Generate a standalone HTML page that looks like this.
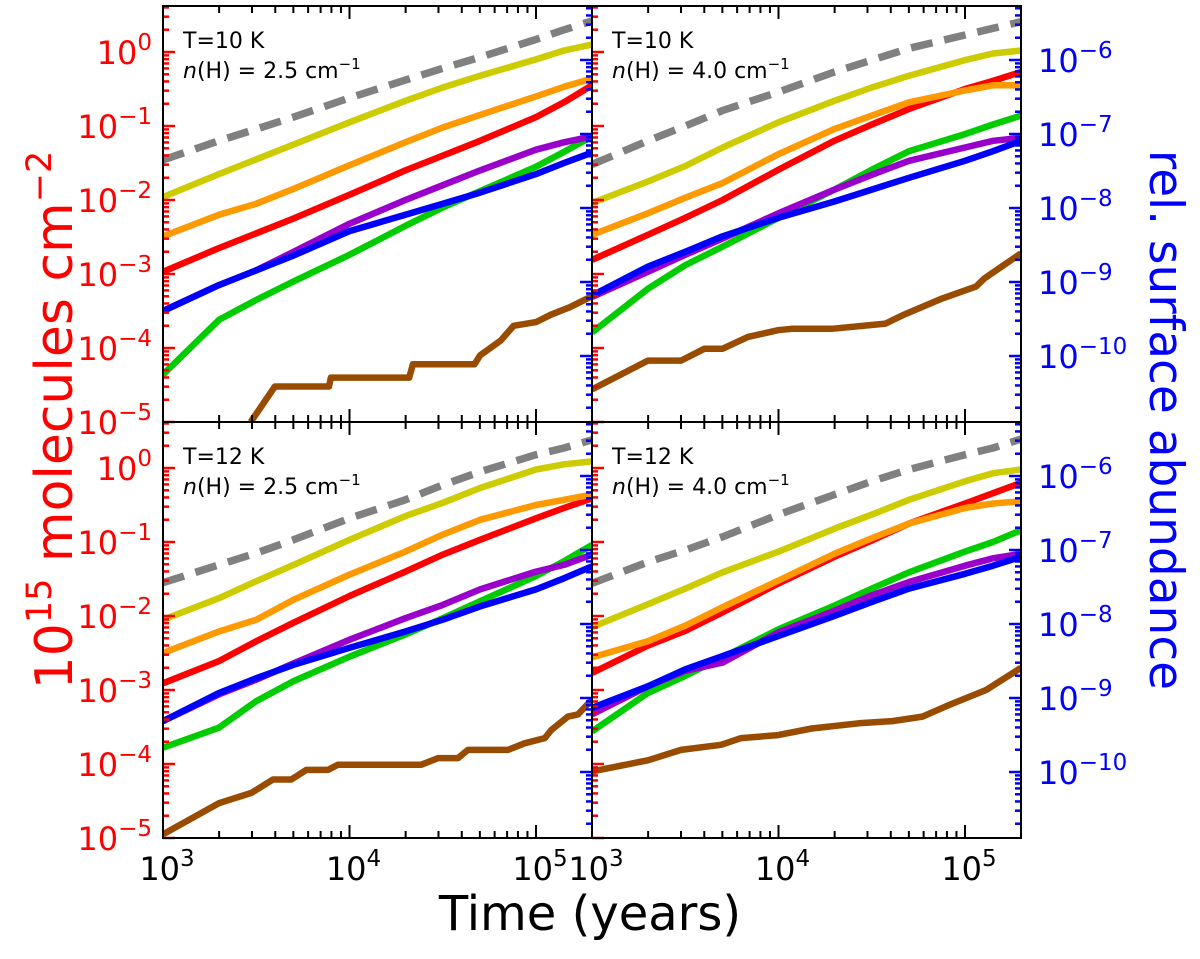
<!DOCTYPE html>
<html><head><meta charset="utf-8"><style>
html,body{margin:0;padding:0;background:#fff;}
svg{display:block;font-family:"DejaVu Sans","Liberation Sans",sans-serif;}
</style></head><body>
<svg id="chart" width="1200" height="959" viewBox="0 0 1200 959" xmlns="http://www.w3.org/2000/svg">
<defs>
<clipPath id="c0"><rect x="163" y="6" width="429" height="416"/></clipPath>
<clipPath id="c1"><rect x="592" y="6" width="429" height="416"/></clipPath>
<clipPath id="c2"><rect x="163" y="422" width="429" height="416"/></clipPath>
<clipPath id="c3"><rect x="592" y="422" width="429" height="416"/></clipPath>
</defs>
<g id="marks"></g>
<g id="axes"></g>
<text x="590" y="930" text-anchor="middle" font-size="48" fill="#000">Time (years)</text>
<text transform="translate(72,420) rotate(-90)" text-anchor="middle" font-size="52" fill="#ff0000">10<tspan dy="-21" font-size="35">15</tspan><tspan dy="21"> molecules cm</tspan><tspan dy="-21" font-size="35">−2</tspan></text>
<text transform="translate(1150,420) rotate(90)" text-anchor="middle" font-size="47" fill="#0000ff">rel. surface abundance</text>
</svg>
<script>
// shared sampled times (log10 years)
const logTimes = [3, 3.3, 3.5, 3.7, 4, 4.3, 4.5, 4.7, 5, 5.15, 5.3];
const seriesNames = ["gray","yellow","orange","red","purple","blue","green"];
const seriesColors = ["#808080","#cccc00","#ff9900","#ff0000","#9900cc","#0000ff","#00cc00"];
const panelLabels = [["T=10 K","2.5"],["T=10 K","4.0"],["T=12 K","2.5"],["T=12 K","4.0"]];
// panel 0: T=10 K, n=2.5 (log10 of values)
const p0Gray   = [-1.46,-1.2,-1.04,-0.88,-0.62,-0.38,-0.22,-0.07,0.17,0.3,0.42];
const p0Yellow = [-1.96,-1.65,-1.45,-1.25,-0.95,-0.66,-0.48,-0.32,-0.1,0.02,0.1];
const p0Orange = [-2.49,-2.2,-2.05,-1.85,-1.53,-1.22,-1.02,-0.85,-0.6,-0.47,-0.36];
const p0Red    = [-2.97,-2.65,-2.45,-2.25,-1.93,-1.6,-1.4,-1.2,-0.88,-0.68,-0.45];
const p0Purple = [-3.5,-3.15,-2.95,-2.7,-2.32,-2.0,-1.8,-1.6,-1.32,-1.22,-1.14];
const p0Blue   = [-3.5,-3.15,-2.95,-2.75,-2.42,-2.2,-2.05,-1.9,-1.65,-1.5,-1.36];
const p0Green  = [-4.36,-3.62,-3.35,-3.1,-2.74,-2.35,-2.1,-1.88,-1.55,-1.35,-1.14];
const p0BrownT = [3.47,3.6,3.89,3.9,4.32,4.34,4.67,4.7,4.81,4.88,5.0,5.08,5.18,5.3];
const p0BrownV = [-5,-4.52,-4.52,-4.4,-4.4,-4.22,-4.22,-4.1,-3.9,-3.7,-3.65,-3.55,-3.45,-3.3];
// panel 1: T=10 K, n=4.0
const p1Gray   = [-1.52,-1.2,-1.0,-0.79,-0.54,-0.27,-0.11,0.05,0.23,0.32,0.41];
const p1Yellow = [-2.04,-1.75,-1.54,-1.29,-0.95,-0.66,-0.48,-0.32,-0.11,-0.02,0.02];
const p1Orange = [-2.47,-2.18,-1.97,-1.77,-1.38,-1.04,-0.86,-0.68,-0.52,-0.45,-0.45];
const p1Red    = [-2.81,-2.47,-2.24,-2.0,-1.59,-1.2,-0.98,-0.77,-0.5,-0.39,-0.27];
const p1Purple = [-3.31,-2.97,-2.74,-2.52,-2.18,-1.86,-1.66,-1.47,-1.29,-1.2,-1.16];
const p1Blue   = [-3.29,-2.9,-2.7,-2.49,-2.24,-2.02,-1.86,-1.7,-1.47,-1.34,-1.2];
const p1Green  = [-3.79,-3.2,-2.88,-2.63,-2.24,-1.86,-1.59,-1.34,-1.11,-0.98,-0.86];
const p1BrownT = [3,3.3,3.477,3.603,3.701,3.836,3.998,4.07,4.286,4.574,4.664,4.879,5.059,5.104,5.3];
const p1BrownV = [-4.56,-4.17,-4.17,-4.01,-4.01,-3.85,-3.76,-3.74,-3.74,-3.67,-3.56,-3.33,-3.17,-3.06,-2.72];
// panel 2: T=12 K, n=2.5
const p2Gray   = [-1.55,-1.31,-1.15,-0.97,-0.68,-0.43,-0.23,-0.05,0.18,0.27,0.38];
const p2Yellow = [-2.05,-1.76,-1.53,-1.31,-0.97,-0.65,-0.47,-0.27,-0.02,0.05,0.09];
const p2Orange = [-2.5,-2.21,-2.05,-1.78,-1.44,-1.13,-0.9,-0.7,-0.5,-0.43,-0.36];
const p2Red    = [-2.91,-2.61,-2.34,-2.09,-1.73,-1.4,-1.17,-0.97,-0.68,-0.54,-0.41];
const p2Purple = [-3.42,-3.06,-2.86,-2.64,-2.32,-2.03,-1.85,-1.64,-1.4,-1.31,-1.17];
const p2Blue   = [-3.42,-3.04,-2.84,-2.66,-2.43,-2.21,-2.05,-1.87,-1.64,-1.49,-1.33];
const p2Green  = [-3.78,-3.51,-3.15,-2.88,-2.55,-2.25,-2.03,-1.8,-1.46,-1.26,-1.04];
const p2BrownT = [3,3.3,3.474,3.59,3.688,3.769,3.885,3.938,4.385,4.475,4.582,4.635,4.85,4.939,5.047,5.082,5.171,5.225,5.3];
const p2BrownV = [-4.95,-4.53,-4.39,-4.21,-4.21,-4.08,-4.08,-4.01,-4.01,-3.92,-3.92,-3.81,-3.81,-3.72,-3.65,-3.54,-3.36,-3.33,-3.13];
// panel 3: T=12 K, n=4.0
const p3Gray   = [-1.56,-1.27,-1.11,-0.93,-0.63,-0.36,-0.18,-0.02,0.18,0.27,0.39];
const p3Yellow = [-2.15,-1.84,-1.63,-1.41,-1.13,-0.82,-0.63,-0.43,-0.18,-0.07,-0.02];
const p3Orange = [-2.56,-2.34,-2.13,-1.88,-1.52,-1.16,-0.95,-0.75,-0.54,-0.48,-0.45];
const p3Red    = [-2.77,-2.4,-2.2,-1.95,-1.56,-1.2,-0.98,-0.75,-0.48,-0.34,-0.2];
const p3Purple = [-3.33,-2.95,-2.74,-2.63,-2.22,-1.93,-1.72,-1.54,-1.32,-1.22,-1.16];
const p3Blue   = [-3.24,-2.95,-2.72,-2.54,-2.27,-2.0,-1.81,-1.63,-1.43,-1.32,-1.2];
const p3Green  = [-3.56,-3.04,-2.81,-2.56,-2.18,-1.86,-1.63,-1.41,-1.13,-1.0,-0.84];
const p3BrownT = [3,3.3,3.477,3.692,3.8,3.998,4.178,4.43,4.61,4.772,4.898,5.113,5.3];
const p3BrownV = [-4.1,-3.95,-3.81,-3.74,-3.65,-3.61,-3.52,-3.45,-3.42,-3.36,-3.22,-3.0,-2.7];
// tick labels
const xTickExps = [3,4,5];
const redTickExps = [0,-1,-2,-3,-4,-5];
const blueTickExps = [-6,-7,-8,-9,-10];

const NS = "http://www.w3.org/2000/svg";
const panels = [
  {left:163, top:6, s:[p0Gray,p0Yellow,p0Orange,p0Red,p0Purple,p0Blue,p0Green], bt:p0BrownT, bv:p0BrownV},
  {left:592, top:6, s:[p1Gray,p1Yellow,p1Orange,p1Red,p1Purple,p1Blue,p1Green], bt:p1BrownT, bv:p1BrownV},
  {left:163, top:422, s:[p2Gray,p2Yellow,p2Orange,p2Red,p2Purple,p2Blue,p2Green], bt:p2BrownT, bv:p2BrownV},
  {left:592, top:422, s:[p3Gray,p3Yellow,p3Orange,p3Red,p3Purple,p3Blue,p3Green], bt:p3BrownT, bv:p3BrownV}
];
const W = 429, H = 416, DEC_X = 186.5, DEC_Y = 74;
function xs(p, lt){ return p.left + (lt - 3) * DEC_X; }
function ys(p, lv){ return p.top + 46 - lv * DEC_Y; }
function ysBlue(p, lv){ return p.top + 54 - (lv + 6) * DEC_Y; }
function mk(tag, attrs, parent){ const e = document.createElementNS(NS, tag); for (const k in attrs) e.setAttribute(k, attrs[k]); parent.appendChild(e); return e; }
const marks = document.getElementById('marks');
const axes = document.getElementById('axes');
const drawOrder = [6,4,5,3,2,1,0];

panels.forEach((p, pi) => {
  const g = mk('g', {'clip-path':'url(#c'+pi+')'}, marks);
  
  
  let d = p.bt.map((t,i)=>(i?'L':'M')+xs(p,t).toFixed(1)+','+ys(p,p.bv[i]).toFixed(1)).join(' ');
  const br = mk('path', {d:d, fill:'none', stroke:'#994c00', 'stroke-width':6.5, 'stroke-linejoin':'round'}, g);
  
  
  drawOrder.forEach(si => {
    const vals = p.s[si];
    const dd = logTimes.map((t,i)=>(i?'L':'M')+xs(p,t).toFixed(1)+','+ys(p,vals[i]).toFixed(1)).join(' ');
    const attrs = {d:dd, fill:'none', stroke:seriesColors[si], 'stroke-width':6.5, 'stroke-linejoin':'round'};
    if (si === 0) { attrs['stroke-width'] = 7.5; attrs['stroke-dasharray'] = '22 12'; }
    const path = mk('path', attrs, g);
    
    
  });

  const ax = mk('g', {}, axes);
  
  
  for (let e = 3; e <= 5; e++) {
    for (let k = 1; k <= 9; k++) {
      const lt = e + Math.log10(k);
      if (lt > 5.302) continue;
      const x = xs(p, lt);
      if (x > p.left + W - 1 || x < p.left + 1) continue;
      const len = k === 1 ? 13 : 7;
      mk('line', {x1:x, x2:x, y1:p.top, y2:p.top+len, stroke:'#000', 'stroke-width':2}, ax);
      mk('line', {x1:x, x2:x, y1:p.top+H, y2:p.top+H-len, stroke:'#000', 'stroke-width':2}, ax);
    }
  }
  for (let e = -5; e <= 0; e++) {
    for (let k = 1; k <= 9; k++) {
      const lv = e + Math.log10(k);
      const y = ys(p, lv);
      if (y < p.top || y > p.top + H) continue;
      const len = k === 1 ? 12 : 6;
      mk('line', {x1:p.left, x2:p.left+len, y1:y, y2:y, stroke:'#ff0000', 'stroke-width':2.5}, ax);
    }
  }
  for (let e = -11; e <= -6; e++) {
    for (let k = 1; k <= 9; k++) {
      const lv = e + Math.log10(k);
      const y = ysBlue(p, lv);
      if (y < p.top || y > p.top + H) continue;
      const len = k === 1 ? 12 : 6;
      mk('line', {x1:p.left+W, x2:p.left+W-len, y1:y, y2:y, stroke:'#0000ff', 'stroke-width':2.5}, ax);
    }
  }
  const frame = mk('rect', {x:p.left, y:p.top, width:W, height:H, fill:'none', stroke:'#000', 'stroke-width':2}, ax);
  
  
  const t1 = mk('text', {x:p.left+20, y:p.top+42, 'font-size':22, fill:'#000'}, ax);
  t1.textContent = panelLabels[pi][0];
  
  
  const t2 = mk('text', {x:p.left+20, y:p.top+72, 'font-size':22, fill:'#000'}, ax);
  t2.innerHTML = '<tspan font-style="italic">n</tspan>(H) = ' + panelLabels[pi][1] + ' cm<tspan dy="-9" font-size="15">−1</tspan>';
  
  
  if (p.left === 163) {
    redTickExps.forEach(e => {
      const y = ys(p, e);
      const tx = mk('text', {x:152, y:y+12, 'text-anchor':'end', 'font-size':32, fill:'#ff0000'}, ax);
      tx.innerHTML = '10<tspan dy="-14" font-size="23">' + (e === 0 ? '0' : '−' + (-e)) + '</tspan>';
      
      
    });
  } else {
    blueTickExps.forEach(e => {
      const y = ysBlue(p, e);
      const tx = mk('text', {x:1038, y:y+12, 'text-anchor':'start', 'font-size':32, fill:'#0000ff'}, ax);
      tx.innerHTML = '10<tspan dy="-14" font-size="23">−' + (-e) + '</tspan>';
      
      
    });
  }
  if (p.top === 422) {
    xTickExps.forEach(e => {
      const x = xs(p, e);
      const tx = mk('text', {x:x+4, y:880, 'text-anchor':'middle', 'font-size':32, fill:'#000'}, ax);
      tx.innerHTML = '10<tspan dy="-14" font-size="23">' + e + '</tspan>';
      
      
    });
  }
});
</script>
</body></html>
